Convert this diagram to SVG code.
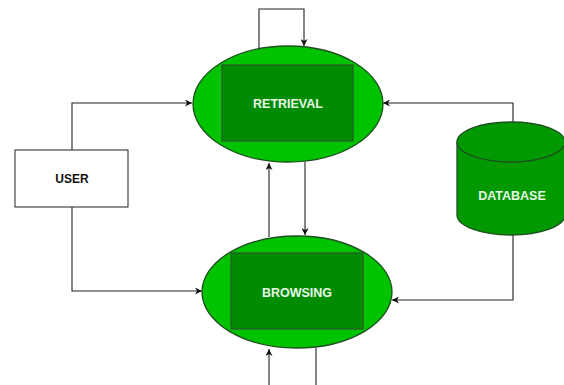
<svg xmlns="http://www.w3.org/2000/svg" width="564" height="385" viewBox="0 0 564 385">
<style>
.ell{fill:#00c300;stroke:#1e4f1e;stroke-width:1.3}
.inr{fill:#008c00;stroke:#2b5a2b;stroke-width:1.3}
.db{fill:#009a00;stroke:#1e4f1e;stroke-width:1.3}
.lt{font-family:"Liberation Sans",Arial,sans-serif;font-weight:bold;font-size:12.5px;fill:#e8f6e8;text-anchor:middle;dominant-baseline:central}
.dk{font-family:"Liberation Sans",Arial,sans-serif;font-weight:bold;font-size:12px;fill:#111;text-anchor:middle;dominant-baseline:central}
.c{fill:none;stroke:#222;stroke-width:1.1}
</style>
<defs>
<marker id="ah" viewBox="0 0 10 10" refX="10" refY="5" markerWidth="7" markerHeight="7" markerUnits="userSpaceOnUse" orient="auto">
<path d="M0,0 L10,5 L0,10 L3,5 Z" fill="#111"/>
</marker>
</defs>
<rect width="564" height="385" fill="#fff"/>
<g id="connectors">
<path class="c" d="M259,48 V9 H304 V46" marker-end="url(#ah)"/>
<path class="c" d="M72,150 V103 H192" marker-end="url(#ah)"/>
<path class="c" d="M72,207 V291 H202" marker-end="url(#ah)"/>
<path class="c" d="M513,122 V103 H383" marker-end="url(#ah)"/>
<path class="c" d="M513,235 V300 H392" marker-end="url(#ah)"/>
<path class="c" d="M269,237 V163" marker-end="url(#ah)"/>
<path class="c" d="M305,162 V235" marker-end="url(#ah)"/>
<path class="c" d="M269,385 V349" marker-end="url(#ah)"/>
<path class="c" d="M316,348 V385"/>
</g>
<g id="retrieval">
<ellipse class="ell" cx="288" cy="104" rx="95" ry="58"/>
<rect class="inr" x="222" y="65" width="131" height="76"/>
<text class="lt" x="288" y="104">RETRIEVAL</text>
</g>
<g id="browsing">
<ellipse class="ell" cx="297" cy="292" rx="95" ry="56"/>
<rect class="inr" x="231" y="253" width="132" height="76"/>
<text class="lt" x="297" y="293">BROWSING</text>
</g>
<g id="user">
<rect x="15" y="150" width="113" height="57" fill="#fff" stroke="#333" stroke-width="1.1"/>
<text class="dk" x="72" y="179">USER</text>
</g>
<g id="database">
<path class="db" d="M457,142 V215 A54,20 0 0 0 565,215 V142 A54,20 0 0 0 457,142 Z"/>
<path class="db" d="M457,142 A54,20 0 0 0 565,142"/>
<text class="lt" x="512" y="196">DATABASE</text>
</g>
</svg>
